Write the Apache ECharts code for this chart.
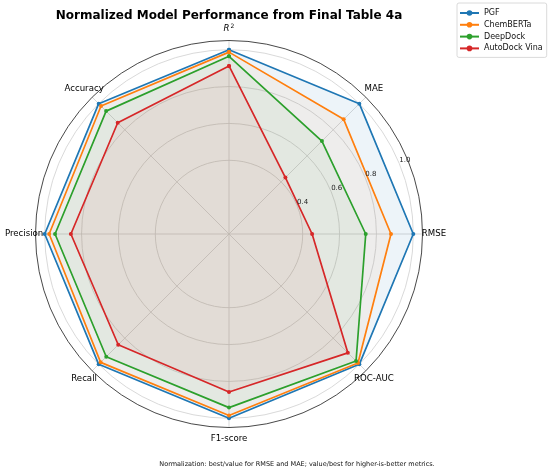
<!DOCTYPE html>
<html>
<head>
<meta charset="utf-8">
<title>Normalized Model Performance from Final Table 4a</title>
<script src="https://cdn.jsdelivr.net/npm/echarts@6/dist/echarts.min.js"></script>
<style>
  html, body { margin: 0; padding: 0; background: #ffffff; }
  #radar-chart { width: 550px; height: 473px; }
</style>
</head>
<body>
<div id="radar-chart"></div>
<script>
// metrics, clockwise from the top
var metrics = ['R2', 'MAE', 'RMSE', 'ROC-AUC', 'F1-score', 'Recall', 'Precision', 'Accuracy'];

// normalized scores, same order as metrics
var pgf       = [1.000, 1.000, 1.000, 1.000, 1.000, 1.000, 1.000, 1.000];
var chemberta = [0.987, 0.880, 0.879, 0.990, 0.985, 0.985, 0.976, 0.982];
var deepdock  = [0.964, 0.713, 0.742, 0.975, 0.942, 0.942, 0.944, 0.943];
var vina      = [0.912, 0.433, 0.451, 0.912, 0.857, 0.850, 0.858, 0.854];

var modelNames = ['PGF', 'ChemBERTa', 'DeepDock', 'AutoDock Vina'];
var radialTicks = [0.4, 0.6, 0.8, 1.0];

var modelValues = [pgf, chemberta, deepdock, vina];
var modelColors = ['#1f77b4', '#ff7f0e', '#2ca02c', '#d62728'];
var fillAlpha = [0.08, 0.06, 0.06, 0.06];

var rMax = 1.05;
var rStep = 0.2;
var labelRadius = 1.112;
var angleStep = 360 / metrics.length;
var center = [229, 234];
var radius = 193.5;

function closedLoop(values) {
  var pts = values.map(function (v, i) { return [v, i * angleStep]; });
  pts.push([values[0], 360]);
  return pts;
}

function isRadialTick(v) {
  return radialTicks.some(function (t) { return Math.abs(t - v) < 1e-6; });
}

// circle colours: only the labelled rings are drawn
var ringColors = [];
for (var t = 0; t <= rMax + 1e-9; t += rStep) {
  ringColors.push(isRadialTick(t) ? '#cfcfcf' : 'rgba(0,0,0,0)');
}
ringColors.push('rgba(0,0,0,0)');

var chart = echarts.init(document.getElementById('radar-chart'));

var series = modelNames.map(function (name, k) {
  return {
    name: name,
    type: 'line',
    coordinateSystem: 'polar',
    polarIndex: 0,
    data: closedLoop(modelValues[k]),
    symbol: 'circle',
    symbolSize: 4,
    lineStyle: { width: 1.7, color: modelColors[k] },
    itemStyle: { color: modelColors[k] },
    areaStyle: { color: modelColors[k], opacity: fillAlpha[k] },
    z: 2 + k
  };
});

// metric names around the outer ring
series.push({
  name: 'metric-labels',
  type: 'scatter',
  coordinateSystem: 'polar',
  polarIndex: 0,
  clip: false,
  silent: true,
  symbolSize: 1,
  itemStyle: { color: 'rgba(0,0,0,0)' },
  data: metrics.map(function (m, i) { return [labelRadius, i * angleStep]; }),
  label: {
    show: true,
    position: 'inside',
    fontSize: 8.6,
    color: '#000',
    opacity: 1,
    textBorderWidth: 0,
    formatter: function (p) {
      return p.dataIndex === 0 ? '{it|R}{sup|2}' : metrics[p.dataIndex];
    },
    rich: {
      it: { fontStyle: 'italic', fontSize: 8.6, color: '#000' },
      sup: { fontSize: 6, color: '#000', verticalAlign: 'top', padding: [0, 0, 5, 1] }
    }
  },
  z: 10
});

var option = {
  animation: false,
  textStyle: { fontFamily: 'DejaVu Sans' },
  title: [{
    text: 'Normalized Model Performance from Final Table 4a',
    left: 229,
    top: 9.5,
    textAlign: 'center',
    padding: 0,
    textStyle: { fontSize: 12, fontWeight: 'bold', color: '#000' }
  }, {
    text: 'Normalization: best/value for RMSE and MAE; value/best for higher-is-better metrics.',
    left: 297,
    top: 460.5,
    textAlign: 'center',
    padding: 0,
    textStyle: { fontSize: 6.5, fontWeight: 'normal', color: '#111' }
  }],
  legend: {
    data: modelNames,
    orient: 'vertical',
    left: 457,
    top: 3,
    padding: [6, 4, 5, 2],
    itemWidth: 19,
    itemHeight: 7,
    itemGap: 3.8,
    itemStyle: { borderWidth: 0 },
    backgroundColor: 'rgba(255,255,255,0.8)',
    borderColor: '#d0d0d0',
    borderWidth: 0.8,
    borderRadius: 2,
    textStyle: { fontSize: 8, color: '#111' }
  },
  polar: [
    { center: center, radius: radius },
    { center: center, radius: radius }
  ],
  angleAxis: [{
    polarIndex: 0,
    type: 'value',
    min: 0,
    max: 360,
    interval: angleStep,
    startAngle: 90,
    clockwise: true,
    axisLine: { show: true, lineStyle: { color: '#333', width: 0.9 } },
    axisTick: { show: false },
    axisLabel: { show: false },
    splitLine: { show: true, lineStyle: { color: '#cfcfcf', width: 0.8 } }
  }, {
    polarIndex: 1,
    type: 'value',
    min: 0,
    max: 360,
    startAngle: 22.5,
    show: false
  }],
  radiusAxis: [{
    polarIndex: 0,
    min: 0,
    max: rMax,
    interval: rStep,
    axisLine: { show: false },
    axisTick: { show: false },
    axisLabel: { show: false },
    splitLine: { show: true, lineStyle: { color: ringColors, width: 0.8 } }
  }, {
    polarIndex: 1,
    min: 0,
    max: rMax,
    interval: rStep,
    z: 10,
    axisLine: { show: false },
    axisTick: { show: false },
    splitLine: { show: false },
    axisLabel: {
      show: true,
      margin: 0,
      align: 'left',
      verticalAlign: 'bottom',
      fontSize: 7,
      color: '#222',
      formatter: function (v) { return isRadialTick(v) ? v.toFixed(1) : ''; }
    }
  }],
  series: series
};

chart.setOption(option);
</script>
</body>
</html>
